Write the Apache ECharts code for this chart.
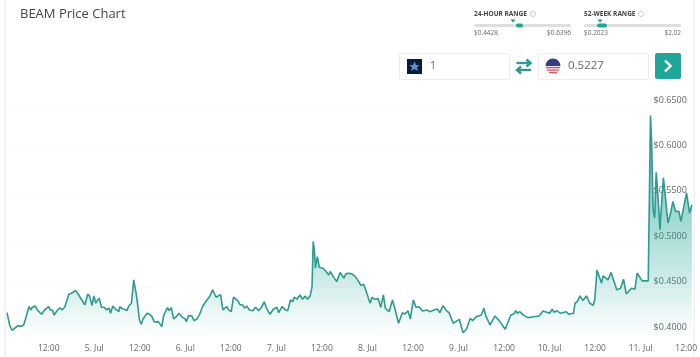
<!DOCTYPE html>
<html><head><meta charset="utf-8">
<style>html,body{margin:0;padding:0;background:#fff}#c{width:700px;height:357px}</style>
<script src="https://cdn.jsdelivr.net/npm/echarts@6/dist/echarts.min.js"></script>
</head><body><div id="c"></div>
<script>
// hours since 4 Jul 00:00
const hours=[1.0,1.7,2.3,3.1,3.9,4.8,5.4,5.9,6.4,6.8,7.3,7.7,8.4,9.0,10.1,10.9,12,12.4,13.0,13.4,14.2,14.9,15.5,16.2,17.3,18.0,18.4,19.0,19.6,20.6,21.5,22.3,22.8,23.4,23.9,24.4,24.8,25.3,25.9,26.5,26.8,27.3,27.9,28.3,28.9,29.6,30.0,30.5,30.7,31.4,32.0,32.6,33.1,33.8,34.4,35.1,35.5,35.9,36.4,36.8,37.3,37.9,38.6,39.2,39.8,40.3,40.9,41.2,41.8,42.3,42.8,43.3,43.7,44.3,44.9,45.6,46.3,47.2,47.9,48.3,48.8,49.3,49.7,50.3,51.0,51.7,52.6,53.7,54.4,55.2,56.1,56.5,57.3,57.9,58.4,58.9,59.4,60.1,60.7,61.8,62.4,63.1,63.6,64.2,64.9,65.8,66.5,67.3,68.1,68.8,69.4,70.3,71.2,72.1,72.6,73.5,74.4,75.0,75.7,76.3,76.7,77.4,78.2,78.9,79.6,80.2,80.9,81.4,81.7,82.0,82.3,82.8,83.3,84.2,85.1,85.8,86.2,87.0,87.9,88.3,88.8,89.3,89.8,90.3,91.0,91.9,92.8,93.7,94.3,95.0,95.6,96.1,96.7,97.2,97.8,98.8,99.5,100.2,100.7,101.7,102.6,103.2,104.2,105.2,105.9,106.7,107.3,108.1,108.8,109.6,110.5,111.7,112.4,113.6,114.4,115.1,115.9,116.8,117.5,118.6,119.3,120.2,121.2,122.1,123.1,123.7,124.7,126.0,126.7,127.2,128.3,129.6,130.7,132.3,133.8,134.6,135.1,135.5,136.1,137.3,138.3,138.8,139.5,141.2,142.3,144.0,144.7,145.2,145.9,146.9,148.4,149.0,150.3,150.7,151.3,152.0,152.8,153.7,154.6,155.5,155.9,156.5,157.0,157.7,158.1,159.4,159.7,160.2,160.7,161.7,162.7,163.5,164.2,165.6,166.5,167.1,168.4,170.0,170.2,170.6,170.9,171.3,171.7,172.1,172.5,173.1,173.4,174.0,174.6,175.2,175.9,176.5,177.2,178.1,178.6,179.4,180.1,180.9,181.5];
const prices=[.4224,.4088,.403,.4055,.4081,.4074,.4088,.4158,.4151,.429,.4254,.4284,.4298,.4254,.4206,.4254,.429,.4254,.4254,.4199,.4246,.4276,.4254,.4284,.4427,.4438,.4434,.4467,.4438,.4372,.4309,.443,.4401,.4301,.4408,.4328,.4357,.4383,.4284,.4284,.4298,.4254,.4273,.4217,.4298,.4262,.4273,.4235,.429,.4265,.4262,.4246,.4298,.4328,.4585,.4419,.429,.4143,.4096,.4151,.4143,.4217,.4206,.418,.4121,.4136,.4125,.4143,.407,.4195,.421,.4279,.4246,.4279,.4155,.418,.4217,.4173,.4158,.4125,.4191,.4169,.4188,.4136,.4151,.4199,.4298,.4364,.4401,.4475,.4394,.4408,.4423,.4254,.4246,.429,.4254,.4235,.4394,.4357,.4312,.4309,.4273,.4298,.4254,.4246,.4284,.4246,.4284,.4345,.4273,.4206,.4262,.4284,.4224,.429,.4254,.4246,.4364,.4345,.4394,.4372,.4419,.4372,.4408,.4372,.4408,.4511,.5008,.4916,.4714,.4842,.4725,.4714,.4677,.464,.4677,.4621,.4566,.456,.4666,.4659,.4604,.4651,.4659,.4651,.4621,.4566,.4522,.4538,.4467,.4445,.4328,.4394,.4372,.4379,.4284,.4419,.4273,.4235,.4364,.4273,.4107,.4224,.421,.4243,.4155,.4364,.4284,.429,.4243,.4254,.4235,.4254,.4265,.4224,.4301,.4246,.4224,.4107,.4125,.4151,.4002,.4041,.4162,.4136,.418,.4199,.4273,.4188,.4088,.4188,.4136,.4041,.4199,.421,.4246,.4217,.4235,.4191,.4169,.4191,.4177,.4188,.4243,.4217,.4262,.4228,.4246,.4217,.4235,.4206,.4217,.4328,.4345,.4408,.4357,.4408,.4328,.4306,.4364,.4695,.4703,.4549,.4629,.4585,.4566,.4666,.4659,.4475,.4493,.4593,.443,.4493,.4482,.4659,.4574,.4574,.4566,.6396,.6094,.5358,.5266,.5769,.5542,.5137,.5358,.5708,.5468,.5211,.5321,.5449,.5339,.5339,.5229,.5394,.5542,.5321,.5413];
const tickHours=[12,24,36,48,60,72,84,96,108,120,132,144,156,168,180];
const yTicks=[0.40,0.45,0.50,0.55,0.60,0.65];
const titleText='BEAM Price Chart';
const ranges=[['24-HOUR RANGE','$0.4428','$0.6396'],['52-WEEK RANGE','$0.2023','$2.02']];
const fromAmount='1', toAmount='0.5227';

const START_DAY=4;
const FONT='"Open Sans",sans-serif';
const seriesData=hours.map((h,i)=>[h,prices[i]]);
const teal='#1fa698';
const txt=(x,y,t,size,fill,extra)=>({type:'text',x,y,silent:true,style:Object.assign({text:t,font:(extra&&extra.w||'400')+' '+size+'px '+FONT,fill,textVerticalAlign:'middle',textAlign:(extra&&extra.a)||'left'})});
const rect=(x,y,w,h,fill,r,stroke)=>({type:'rect',silent:true,shape:{x,y,width:w,height:h,r:r||0},style:{fill,stroke:stroke||null,lineWidth:1}});
const line=(pts,stroke,w)=>({type:'polyline',silent:true,shape:{points:pts},style:{stroke,lineWidth:w,fill:null}});
const widget=(x,r,triX,pillX,pillW,qX)=>[
  txt(x,14,r[0],6.5,'#444',{w:'700'}),
  {type:'circle',silent:true,shape:{cx:qX,cy:14,r:2.6},style:{fill:null,stroke:'#bbb',lineWidth:.7}},
  {type:'polygon',silent:true,shape:{points:[[triX-2.5,19.5],[triX+2.5,19.5],[triX,22.5]]},style:{fill:'#2b8c83'}},
  rect(x,24,97,3,'#dedede',1.5),
  rect(pillX,23.5,pillW,4,teal,2),
  txt(x,33,r[1],6.5,'#666'),
  txt(x+97,33,r[2],6.5,'#666',{a:'right'})
];
const graphics=[
  rect(4.5,0,1.5,357,'#efefef'),
  rect(693.5,0,1.5,357,'#f1f1f1'),
  txt(20,14,titleText,13,'#444'),
  ...widget(474,ranges[0],513,516,7,533),
  ...widget(584,ranges[1],600,597,10,641),
  rect(399.5,53.5,110,26,'#fff',1,'#ececec'),
  rect(538.5,53.5,110,26,'#fff',1,'#ececec'),
  rect(407,59,15,15,'#0e1a3a'),
  {type:'polygon',silent:true,shape:{points:[[414.5,61.5],[416,65],[419.5,65.3],[417,67.5],[417.8,71],[414.5,69],[411.2,71],[412,67.5],[409.5,65.3],[413,65]]},style:{fill:'#5d8fd6'}},
  txt(430,66,fromAmount,10.5,'#666'),
  line([[516.5,63],[530.5,63]],'#2b9a8e',2.4),
  line([[526.5,59.5],[530.5,63],[526.5,66.5]],'#2b9a8e',2.4),
  line([[531,70],[517,70]],'#2b9a8e',2.4),
  line([[521,66.5],[517,70],[521,73.5]],'#2b9a8e',2.4),
  {type:'circle',silent:true,shape:{cx:553,cy:66,r:7.5},style:{fill:'#f3e3e6'}},
  {type:'sector',silent:true,shape:{cx:553,cy:66,r:7.5,r0:0,startAngle:Math.PI,endAngle:2*Math.PI},style:{fill:'#2f3f7f'}},
  rect(546,67,14,1.2,'#d9535f'),
  rect(547,69.5,12,1.2,'#d9535f'),
  rect(549,72,8,1.2,'#d9535f'),
  txt(568,66,toAmount,11.5,'#666'),
  rect(655,53,26,26,teal,2),
  line([[665,60.5],[670.5,66],[665,71.5]],'#fff',2.4)
];
const chart=echarts.init(document.getElementById('c'),null,{renderer:'canvas'});
chart.setOption({
  animation:false,
  backgroundColor:'#fff',
  grid:{left:7,right:7,top:106,bottom:24,containLabel:false},
  xAxis:{type:'value',min:hours[0],max:hours[hours.length-1],
    axisLine:{show:false},axisTick:{show:false},splitLine:{show:false},
    axisLabel:{customValues:tickHours,margin:11,fontSize:8.5,color:'#666',fontFamily:FONT,hideOverlap:false,
      formatter:h=>h%24===0?(START_DAY+h/24)+'. Jul':'12:00'}},
  yAxis:{type:'value',position:'right',min:yTicks[0],max:yTicks[yTicks.length-1],interval:0.05,
    axisLine:{show:false},axisTick:{show:false},
    splitLine:{lineStyle:{color:'#fafafa',width:1}},
    axisLabel:{inside:true,margin:5,fontSize:9,color:'#666',fontFamily:FONT,verticalAlign:'bottom',lineHeight:12,
      formatter:v=>'$'+v.toFixed(4)}},
  series:[{type:'line',data:seriesData,showSymbol:false,symbol:'none',clip:true,z:1,
    lineStyle:{color:'#2f9a90',width:1.6},
    areaStyle:{origin:'start',color:new echarts.graphic.LinearGradient(0,0,0,1,[{offset:0,color:'rgba(31,166,152,1)'},{offset:0.5,color:'rgba(31,166,152,0.58)'},{offset:0.76,color:'rgba(31,166,152,0.3)'},{offset:1,color:'rgba(31,166,152,0.02)'}])}}],
  graphic:{elements:graphics}
});
</script></body></html>
